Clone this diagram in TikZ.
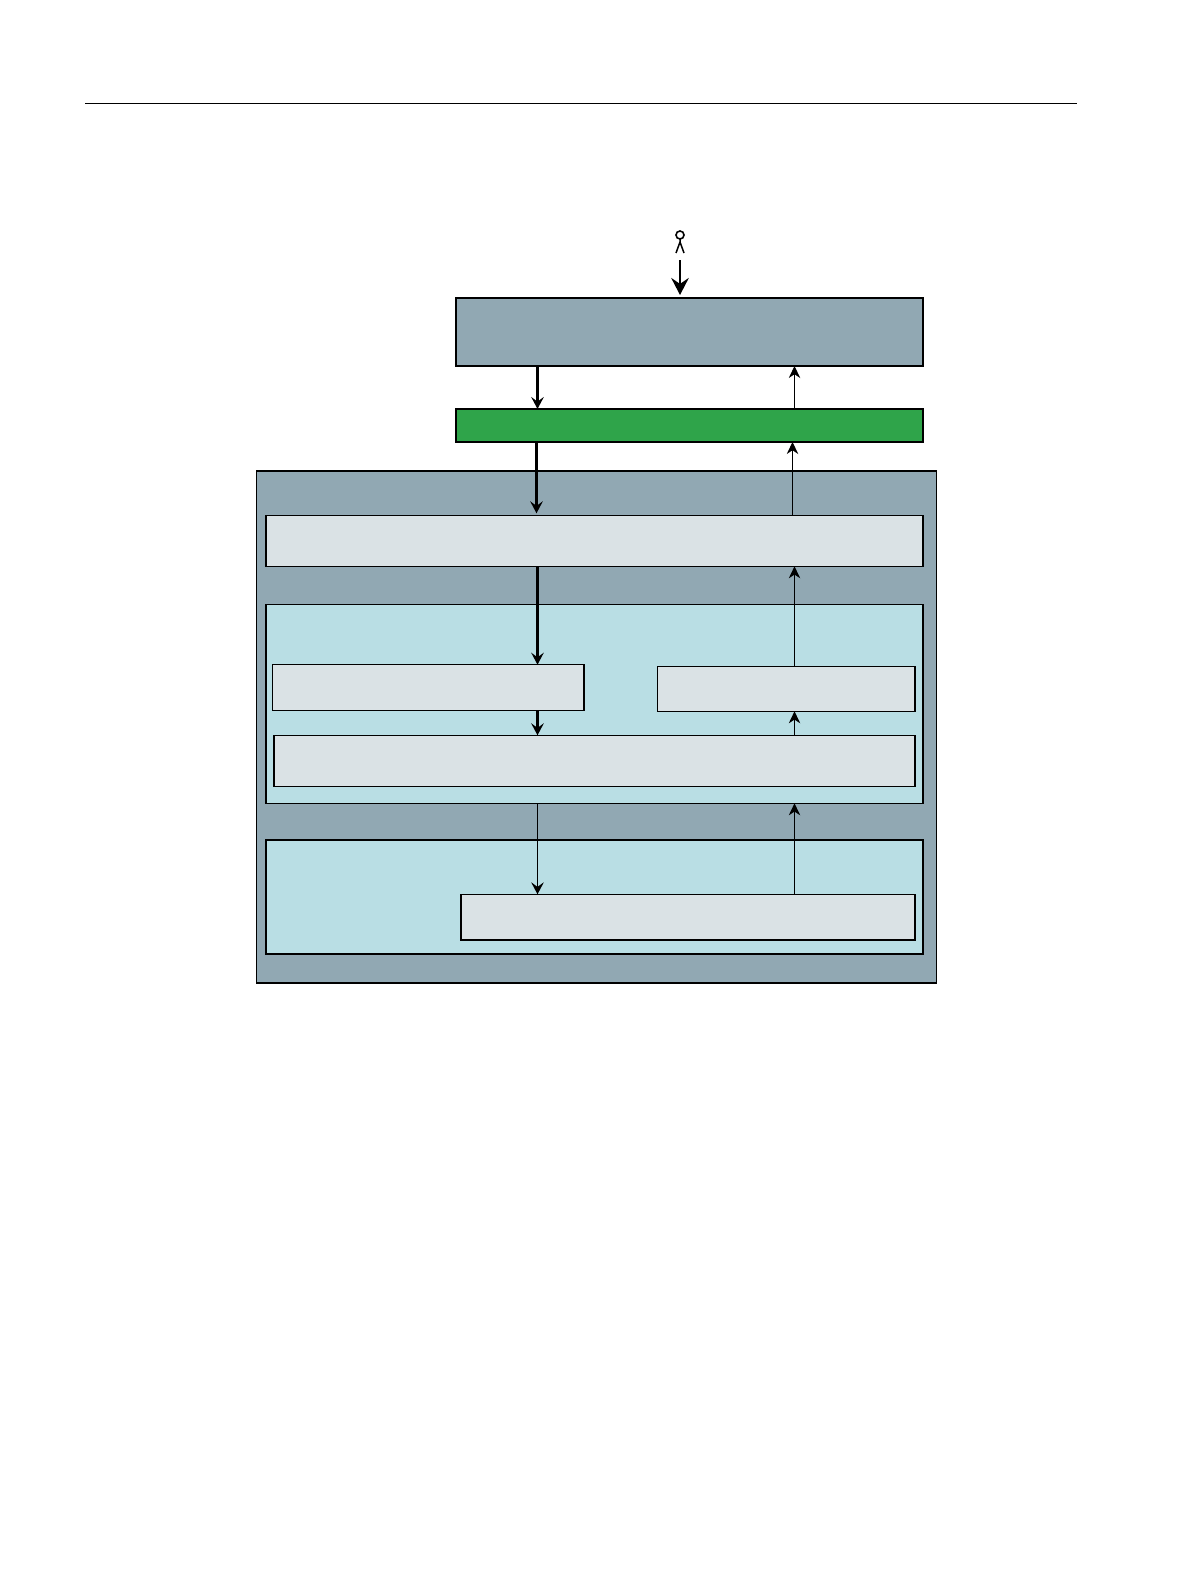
\documentclass[tikz,border=0pt]{standalone}
\usepackage{xcolor}
\usetikzlibrary{positioning,calc,arrows.meta}
\definecolor{slategray}{HTML}{91A8B3}
\definecolor{layergreen}{HTML}{2FA44A}
\definecolor{paleteal}{HTML}{B9DEE4}
\definecolor{palegray}{HTML}{DAE2E5}

\begin{document}
\begin{tikzpicture}[x=1pt, y=-1pt, >=Stealth,
    box/.style={draw=black, line width=1.05pt, anchor=north west, inner sep=0pt, outer sep=0pt},
    graybox/.style={box, fill=slategray},
    tealbox/.style={box, fill=paleteal},
    lightbox/.style={box, fill=palegray},
    dnarr/.style={-{Stealth[length=4.2mm, width=4.4mm, inset=1.6mm]}, line width=2.2pt},
    uparr/.style={-{Stealth[length=4.2mm, width=4mm, inset=1.3mm]}, line width=1pt}]
    \useasboundingbox (0,0) rectangle (1191,1587);
    % header rule
    \coordinate (rulel) at (85,103);
    \coordinate (ruler) at (1077,103);
    \draw[line width=0.9pt] (rulel) -- (ruler);
    % boxes
    \node[graybox, minimum width=467pt, minimum height=68pt] (app) at (456,298) {};
    \node[box, fill=layergreen, minimum width=467pt, minimum height=33pt, below=43pt of app.south west, anchor=north west] (iface) {};
    \node[graybox, minimum width=680pt, minimum height=512pt] (outer) at (256.5,471) {};
    \node[lightbox, minimum width=657pt, minimum height=51pt] (top) at (266,515.3) {};
    \node[tealbox, minimum width=657pt, minimum height=199pt, below=38pt of top.south west, anchor=north west] (mid) {};
    \node[tealbox, line width=1.7pt, minimum width=657pt, minimum height=114pt, below=37pt of mid.south west, anchor=north west] (low) {};
    \node[lightbox, minimum width=311.4pt, minimum height=45.6pt] (left) at (272.6,664.7) {};
    \node[lightbox, minimum width=257.2pt, minimum height=45pt] (right) at (657.8,666.3) {};
    \node[lightbox, minimum width=641pt, minimum height=51pt] (wide) at (274,735.3) {};
    \node[lightbox, line width=1.6pt, minimum width=454pt, minimum height=45.7pt] (base) at (461,894.3) {};
    % user figure
    \node[circle, draw=black, line width=1.6pt, fill=white, minimum size=8pt, inner sep=0pt, outer sep=0pt] (head) at (680,235) {};
    \coordinate (hip) at (680,242);
    \coordinate (footl) at (676,253);
    \coordinate (footr) at (684,253);
    \coordinate (argo) at (680,260);
    \draw[line width=1.5pt] (head) -- (hip) (footl) -- (hip) -- (footr);
    % connectors
    \coordinate (dn) at (537.5,0);
    \coordinate (up) at (794.5,0);
    \draw[-{Stealth[length=6mm, width=6.2mm, inset=2.1mm]}, line width=1.8pt] (argo) -- ([yshift=3pt]argo |- app.north);
    \draw[dnarr] (dn |- app.south) -- (dn |- iface.north);
    \draw[uparr] (up |- iface.north) -- (up |- app.south);
    \draw[dnarr] ([xshift=-1pt]dn |- iface.south) -- ([xshift=-1pt,yshift=2pt]dn |- top.north);
    \draw[uparr] ([xshift=-2pt]up |- top.north) -- ([xshift=-2pt]up |- iface.south);
    \draw[dnarr] (dn |- top.south) -- (dn |- left.north);
    \draw[uparr] (up |- right.north) -- (up |- top.south);
    \draw[dnarr] (dn |- left.south) -- (dn |- wide.north);
    \draw[uparr] (up |- wide.north) -- (up |- right.south);
    \draw[dnarr, line width=1.6pt] (dn |- mid.south) -- (dn |- base.north);
    \draw[uparr] (up |- base.north) -- (up |- mid.south);
\end{tikzpicture}
\end{document}
